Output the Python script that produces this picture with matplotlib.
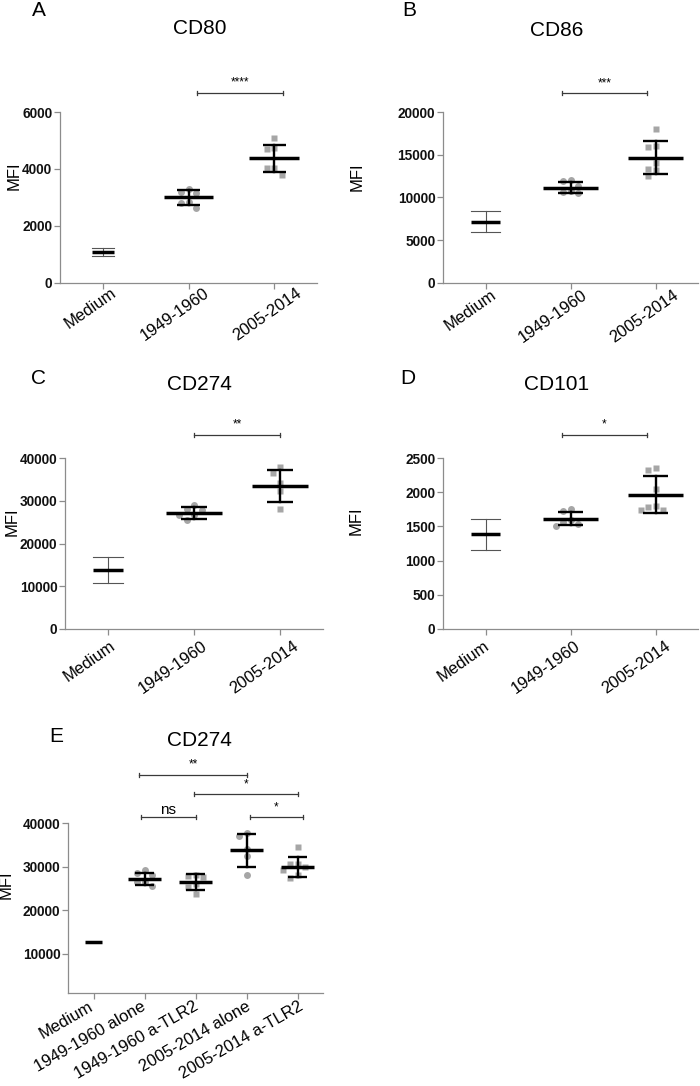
import numpy as np
import matplotlib
matplotlib.use("Agg")
import matplotlib.pyplot as plt
from matplotlib.transforms import ScaledTranslation

plt.rcParams["font.family"] = ["Liberation Sans", "DejaVu Sans"]

W, H = 700, 1086

GROUPS_3 = ["Medium", "1949-1960", "2005-2014"]
GROUPS_E = ["Medium", "1949-1960 alone", "1949-1960 a-TLR2",
            "2005-2014 alone", "2005-2014 a-TLR2"]

# A: CD80
CD80_MEAN = [1080, 3000, 4380]
CD80_SD = [135, 260, 470]
CD80_1949 = [3300, 3200, 3170, 2850, 2800, 2630]
CD80_2005 = [5100, 4750, 4700, 4020, 4020, 3800]

# B: CD86
CD86_MEAN = [7170, 11150, 14660]
CD86_SD = [1220, 650, 1950]
CD86_1949 = [12050, 11950, 11350, 10800, 10600, 10550]
CD86_2005 = [18000, 16000, 15900, 14000, 13300, 13200, 12500]

# C: CD274
CD274_MEAN = [13800, 27200, 33500]
CD274_SD = [3100, 1430, 3700]
CD274_1949 = [29100, 28000, 27800, 26700, 26600, 25400]
CD274_2005 = [37800, 36600, 34200, 32300, 28000]

# D: CD101
CD101_MEAN = [1385, 1615, 1965]
CD101_SD = [228, 100, 272]
CD101_1949 = [1750, 1720, 1600, 1570, 1530, 1510]
CD101_2005 = [2350, 2330, 2040, 1800, 1790, 1740, 1740]

# E: CD274 with a-TLR2
E_MEAN = [12700, 27200, 26400, 33700, 29950]
E_SD = [0, 1400, 1800, 3700, 2280]
E_1949_ALONE = [29200, 28450, 28050, 26550, 26550, 25650]
E_1949_TLR2 = [28100, 27800, 27500, 26000, 25400, 23800]
E_2005_ALONE = [37700, 36950, 34150, 32400, 28050]
E_2005_TLR2 = [34400, 30600, 30500, 29900, 29200, 28100, 27300]

# significance: (from group, to group, height, label)
SIG_A = [(1, 2, 6680, "****")]
SIG_B = [(1, 2, 22190, "***")]
SIG_C = [(1, 2, 45380, "**")]
SIG_D = [(1, 2, 2836, "*")]
SIG_E = [(1, 3, 51070, "**"), (2, 4, 46580, "*"),
         (1, 2, 41340, "ns"), (3, 4, 41340, "*")]

PT_COLOR = "#a6a6a6"
SPINE = "#8c8c8c"


def swarm(vals, px_per_unit, step=7.5, mind=6.5):
    vals = np.asarray(vals, float)
    placed = []
    offs = np.zeros(len(vals))
    for i in np.argsort(vals)[::-1]:
        y = vals[i] * px_per_unit
        for c in (0, -1, 1, -2, 2, -3, 3):
            cx = c * step
            if all(np.hypot(cx - a, y - b) >= mind for a, b in placed):
                break
        offs[i] = cx
        placed.append((cx, y))
    return offs


def panel(fig, box, groups, means, sds, points, ylim, yticks, title, letter,
          title_xy, letter_xy, mfi_xy, sigs, sig_nudge, lab_dx, lab_dy,
          rot=35, mean_hw=0.32, cap_hw=0.15, med_hw=0.17):
    x0, y0, x1, y1 = box  # pixel coords, top-left origin
    ax = fig.add_axes([x0 / W, 1 - y1 / H, (x1 - x0) / W, (y1 - y0) / H])
    n = len(groups)
    ax.set_xlim(-0.5, n - 0.5)
    ax.set_ylim(*ylim)
    px_cat = (x1 - x0) / n
    px_unit = (y1 - y0) / (ylim[1] - ylim[0])

    for gi, vals, mk in points:
        offs = swarm(vals, px_unit) / px_cat
        ax.plot(gi + offs, vals, ls="none", marker=mk, ms=5.0 if mk == "o" else 4.6,
                mfc=PT_COLOR, mec="none", zorder=2, clip_on=False)

    has_pts = {p[0] for p in points}
    for i, (m, s) in enumerate(zip(means, sds)):
        if i in has_pts:
            ax.plot([i - mean_hw, i + mean_hw], [m, m], color="black", lw=2.5,
                    solid_capstyle="butt", zorder=3)
            ax.plot([i, i], [m - s, m + s], color="black", lw=1.7, zorder=3)
            for v in (m - s, m + s):
                ax.plot([i - cap_hw, i + cap_hw], [v, v], color="black", lw=1.7,
                        solid_capstyle="butt", zorder=3)
        else:
            if s > 0:
                ax.plot([i, i], [m - s, m + s], color="#555555", lw=0.8, zorder=3)
                for v in (m - s, m + s):
                    ax.plot([i - med_hw, i + med_hw], [v, v], color="#555555",
                            lw=0.8, zorder=3)
            ax.plot([i - med_hw, i + med_hw], [m, m], color="black", lw=2.5,
                    solid_capstyle="butt", zorder=3)

    for (a, b, h, lab), (na, nb) in zip(sigs, sig_nudge):
        xa, xb = a + na, b + nb
        ax.plot([xa, xb], [h, h], color="#3a3a3a", lw=0.9, clip_on=False)
        for xx in (xa, xb):
            ax.plot([xx, xx], [h - ylim[1] * 0.012, h + ylim[1] * 0.012],
                    color="#3a3a3a", lw=0.9, clip_on=False)
        if lab == "ns":
            ax.annotate(lab, ((xa + xb) / 2, h), xytext=(0, 0.3),
                        textcoords="offset points", ha="center", va="bottom",
                        fontsize=11, annotation_clip=False)
        else:
            ax.annotate(lab, ((xa + xb) / 2, h), xytext=(0, 3),
                        textcoords="offset points", ha="center", va="bottom",
                        fontsize=8.5, annotation_clip=False)

    for sp in ("top", "right"):
        ax.spines[sp].set_visible(False)
    for sp in ("left", "bottom"):
        ax.spines[sp].set_color(SPINE)
        ax.spines[sp].set_linewidth(0.9)
    ax.set_yticks(yticks)
    ax.set_yticklabels([str(t) for t in yticks], fontweight="bold", fontsize=9.8)
    ax.tick_params(axis="both", colors=SPINE, length=4, width=0.9)
    ax.tick_params(axis="y", labelcolor="#111111", pad=1.5)
    ax.set_xticks(range(n))
    ax.set_xticklabels([])

    for i, lab in enumerate(groups):
        dx = lab_dx[0] + lab_dx[1] * i
        tr = ax.get_xaxis_transform() + ScaledTranslation(dx / 100, -lab_dy / 100,
                                                          fig.dpi_scale_trans)
        ax.text(i, 0, lab, rotation=rot, rotation_mode="anchor", ha="right",
                va="top", transform=tr, fontsize=12)

    fig.text(title_xy[0] / W, 1 - title_xy[1] / H, title, ha="center",
             va="center", fontsize=15)
    fig.text(letter_xy[0] / W, 1 - letter_xy[1] / H, letter, ha="center",
             va="center", fontsize=15)
    fig.text(mfi_xy[0] / W, 1 - mfi_xy[1] / H, "MFI", ha="center", va="center",
             rotation=90, fontsize=12)
    return ax


fig = plt.figure(figsize=(W / 100, H / 100), dpi=100)

panel(fig, (60, 112, 317, 283), GROUPS_3, CD80_MEAN, CD80_SD,
      [(1, CD80_1949, "o"), (2, CD80_2005, "s")], (0, 6000),
      [0, 2000, 4000, 6000], "CD80", "A", (200, 29), (39, 11), (14, 176),
      SIG_A, [(0.1, 0.1)], (8, 6.5), 2, mean_hw=0.29, cap_hw=0.135, med_hw=0.125)

panel(fig, (443, 112, 698, 283), GROUPS_3, CD86_MEAN, CD86_SD,
      [(1, CD86_1949, "o"), (2, CD86_2005, "s")], (0, 20000),
      [0, 5000, 10000, 15000, 20000], "CD86", "B", (557, 30), (409, 11),
      (357, 177), SIG_B, [(-0.1, -0.1)], (5, 6), 4)

panel(fig, (65, 458, 323, 629), GROUPS_3, CD274_MEAN, CD274_SD,
      [(1, CD274_1949, "o"), (2, CD274_2005, "s")], (0, 40000),
      [0, 10000, 20000, 30000, 40000], "CD274", "C", (199, 385), (39, 379),
      (12, 522), SIG_C, [(0, 0)], (1, 6), 9)

panel(fig, (443, 458, 698, 629), GROUPS_3, CD101_MEAN, CD101_SD,
      [(1, CD101_1949, "o"), (2, CD101_2005, "s")], (0, 2500),
      [0, 500, 1000, 1500, 2000, 2500], "CD101", "D", (557, 384), (408, 379),
      (356, 521), SIG_D, [(-0.1, -0.1)], (-2, 5.5), 9)

panel(fig, (68, 823, 323, 993), GROUPS_E, E_MEAN, E_SD,
      [(1, E_1949_ALONE, "o"), (2, E_1949_TLR2, "s"),
       (3, E_2005_ALONE, "o"), (4, E_2005_TLR2, "s")], (1000, 40000),
      [10000, 20000, 30000, 40000], "CD274", "E", (199, 741), (56, 737),
      (6, 885), SIG_E, [(-0.1, 0.0), (-0.03, 0.0), (-0.07, 0.0), (0.07, 0.1)],
      (-5, 1.5), 6, rot=30, mean_hw=0.33, cap_hw=0.18, med_hw=0.16)

fig.savefig("out.png", dpi=100)
